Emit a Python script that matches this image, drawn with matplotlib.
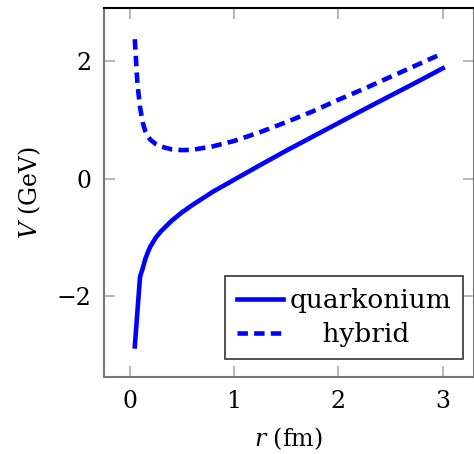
import matplotlib
matplotlib.use("Agg")
import matplotlib.pyplot as plt

plt.rcParams['font.family'] = ['DejaVu Serif']
plt.rcParams['mathtext.fontset'] = 'dejavuserif'
plt.rcParams['font.size'] = 17
plt.rcParams['lines.scale_dashes'] = False

# values
r_quark = [0.05, 0.1, 0.125, 0.15, 0.175, 0.2, 0.25, 0.3, 0.4, 0.5, 0.6, 0.8, 1.0,
           1.25, 1.5, 1.75, 2.0, 2.25, 2.5, 2.75, 3.0]
v_quark = [-2.85, -1.67, -1.53, -1.37, -1.25, -1.15, -1.005, -0.895, -0.72, -0.575,
           -0.45, -0.22, -0.02, 0.23, 0.475, 0.71, 0.945, 1.18, 1.41, 1.64, 1.875]

r_hybrid = [0.05, 0.075, 0.1, 0.125, 0.15, 0.175, 0.2, 0.25, 0.3, 0.4, 0.5, 0.6, 0.8,
            1.0, 1.25, 1.5, 1.75, 2.0, 2.25, 2.5, 2.75, 3.0]
v_hybrid = [2.37, 1.62, 1.22, 0.96, 0.81, 0.72, 0.66, 0.59, 0.545, 0.50, 0.485, 0.49,
            0.55, 0.64, 0.79, 0.96, 1.14, 1.34, 1.53, 1.73, 1.93, 2.13]

labels = ['quarkonium', 'hybrid']

fig = plt.figure(figsize=(4.74, 4.54), dpi=100)
ax = fig.add_axes([104 / 474, 1 - 377 / 454, 369.5 / 474, 369 / 454])

ax.plot(r_quark, v_quark, color='blue', lw=3.3, label=labels[0])
ax.plot(r_hybrid, v_hybrid, color='blue', lw=3.3, dashes=(7.5, 4.5),
        dash_capstyle='butt', label=labels[1])

ax.set_xlim(-0.245, 3.295)
ax.set_ylim(-3.37, 2.90)
ax.set_xticks([0, 1, 2, 3])
ax.set_yticks([-2, 0, 2])
ax.tick_params(direction='in', length=8, width=1.2, color='#aaaaaa', pad=9,
               top=True, right=True)

for side in ['left', 'bottom', 'right']:
    ax.spines[side].set_color('#777777')
    ax.spines[side].set_linewidth(1.5)
ax.spines['top'].set_color('black')
ax.spines['top'].set_linewidth(1.5)

ax.set_xlabel('$r$ (fm)', labelpad=9)
ax.set_ylabel('$V$ (GeV)', labelpad=10)

leg = ax.legend(loc='lower right', bbox_to_anchor=(0.9716, 0.0488),
                fancybox=False, framealpha=1, fontsize=19,
                edgecolor='#333333', handlelength=1.75, handletextpad=0.25,
                borderpad=0.45, labelspacing=0.35, borderaxespad=0)
leg.get_frame().set_linewidth(1.2)
# centre the shorter label like the reference legend
leg.get_texts()[1].set_text('    ' + labels[1])

fig.savefig('out.png', dpi=100)
